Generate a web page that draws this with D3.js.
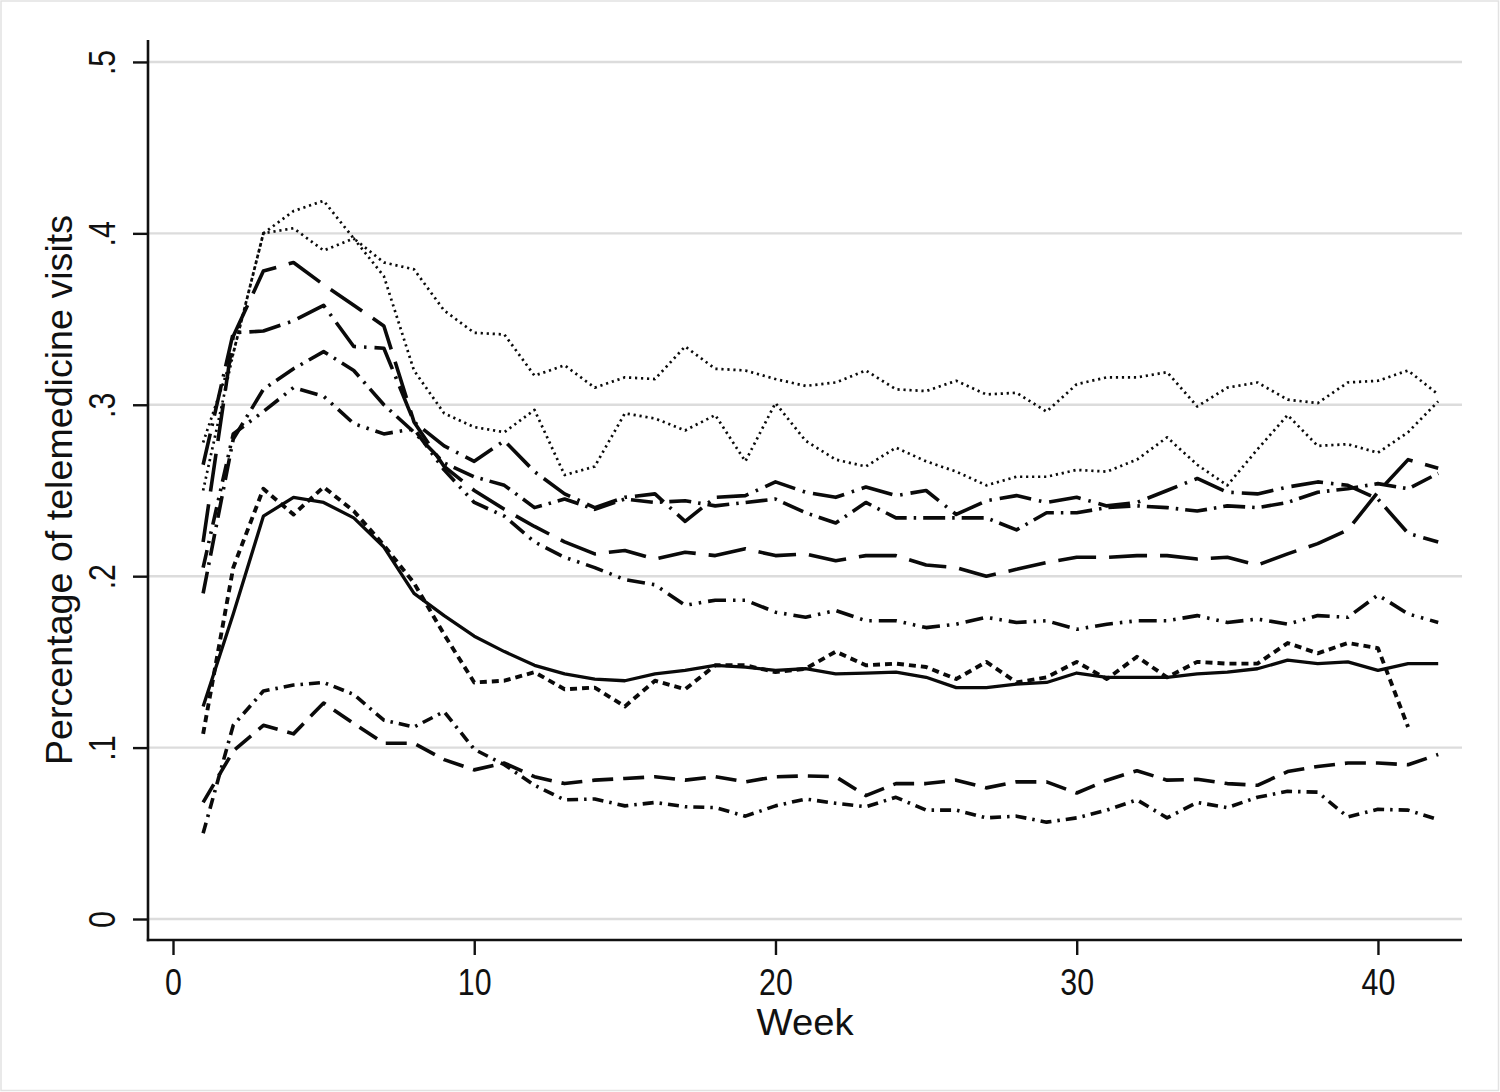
<!DOCTYPE html>
<html>
<head>
<meta charset="utf-8">
<script src="https://cdn.jsdelivr.net/npm/d3@7"></script>
<style>
  html, body { margin: 0; padding: 0; background: #fff; }
  svg { display: block; }
  text { font-family: "Liberation Sans", Arial, Helvetica, sans-serif; fill: #111; }
</style>
</head>
<body>
<svg id="chart" width="1500" height="1092"></svg>
<script>
// ---- data ----
const weeks = d3.range(1, 43);
const yTicks = [0, 0.1, 0.2, 0.3, 0.4, 0.5];
const xTicks = [0, 10, 20, 30, 40];
const xTitle = "Week";
const yTitle = "Percentage of telemedicine visits";

const dottedTop = [0.25, 0.33, 0.40, 0.413, 0.419, 0.397, 0.383, 0.379, 0.355, 0.342, 0.341, 0.317, 0.323, 0.31, 0.316, 0.315, 0.334, 0.321, 0.32, 0.315, 0.311, 0.313, 0.32, 0.309, 0.308, 0.314, 0.306, 0.307, 0.296, 0.312, 0.316, 0.316, 0.319, 0.299, 0.31, 0.313, 0.303, 0.301, 0.313, 0.314, 0.32, 0.306];
const dottedSecond = [0.278, 0.33, 0.40, 0.403, 0.39, 0.397, 0.375, 0.32, 0.295, 0.287, 0.284, 0.297, 0.259, 0.264, 0.295, 0.292, 0.285, 0.294, 0.267, 0.301, 0.279, 0.268, 0.264, 0.275, 0.267, 0.261, 0.253, 0.258, 0.258, 0.262, 0.261, 0.268, 0.281, 0.265, 0.253, 0.274, 0.294, 0.276, 0.277, 0.272, 0.284, 0.302];
const longDash = [0.22, 0.34, 0.378, 0.383, 0.37, 0.358, 0.346, 0.29, 0.264, 0.25, 0.239, 0.229, 0.22, 0.213, 0.215, 0.21, 0.214, 0.212, 0.216, 0.212, 0.213, 0.209, 0.212, 0.212, 0.2065, 0.205, 0.2, 0.204, 0.208, 0.211, 0.211, 0.212, 0.212, 0.21, 0.211, 0.2065, 0.213, 0.219, 0.227, 0.249, 0.268, 0.263];
const dashDotA = [0.265, 0.342, 0.343, 0.349, 0.358, 0.334, 0.333, 0.29, 0.276, 0.267, 0.279, 0.261, 0.248, 0.24, 0.246, 0.248, 0.232, 0.246, 0.247, 0.255, 0.249, 0.246, 0.252, 0.247, 0.25, 0.236, 0.244, 0.247, 0.243, 0.246, 0.241, 0.243, 0.25, 0.257, 0.249, 0.248, 0.252, 0.255, 0.253, 0.245, 0.225, 0.22];
const dashDotB = [0.19, 0.28, 0.309, 0.321, 0.331, 0.32, 0.30, 0.284, 0.266, 0.258, 0.253, 0.24, 0.245, 0.239, 0.245, 0.243, 0.244, 0.241, 0.243, 0.245, 0.237, 0.231, 0.243, 0.234, 0.234, 0.234, 0.234, 0.227, 0.237, 0.237, 0.24, 0.241, 0.24, 0.238, 0.241, 0.24, 0.243, 0.249, 0.251, 0.254, 0.251, 0.26];
const dashDotDot = [0.205, 0.283, 0.296, 0.31, 0.305, 0.289, 0.283, 0.286, 0.262, 0.243, 0.235, 0.22, 0.211, 0.205, 0.198, 0.195, 0.183, 0.186, 0.186, 0.179, 0.176, 0.18, 0.174, 0.174, 0.17, 0.172, 0.176, 0.173, 0.174, 0.169, 0.172, 0.174, 0.174, 0.177, 0.173, 0.175, 0.172, 0.177, 0.176, 0.189, 0.178, 0.173];
const solid = [0.124, 0.178, 0.235, 0.246, 0.243, 0.234, 0.217, 0.19, 0.177, 0.165, 0.156, 0.148, 0.143, 0.14, 0.139, 0.143, 0.145, 0.148, 0.147, 0.145, 0.146, 0.143, 0.1435, 0.144, 0.141, 0.135, 0.135, 0.137, 0.138, 0.1435, 0.141, 0.141, 0.141, 0.143, 0.144, 0.146, 0.151, 0.149, 0.15, 0.145, 0.149, 0.149];
const shortDash = [0.108, 0.205, 0.251, 0.236, 0.252, 0.238, 0.218, 0.196, 0.166, 0.138, 0.139, 0.144, 0.134, 0.135, 0.124, 0.139, 0.134, 0.148, 0.148, 0.144, 0.146, 0.156, 0.148, 0.149, 0.147, 0.14, 0.15, 0.138, 0.141, 0.15, 0.14, 0.153, 0.141, 0.15, 0.149, 0.149, 0.161, 0.155, 0.161, 0.158, 0.112];
const longDashLow = [0.068, 0.098, 0.113, 0.108, 0.126, 0.114, 0.1025, 0.1025, 0.093, 0.087, 0.091, 0.083, 0.079, 0.081, 0.082, 0.083, 0.081, 0.083, 0.08, 0.083, 0.0835, 0.083, 0.072, 0.079, 0.079, 0.081, 0.0765, 0.08, 0.08, 0.0735, 0.081, 0.0865, 0.081, 0.0815, 0.079, 0.078, 0.086, 0.089, 0.091, 0.091, 0.09, 0.096];
const dashDotLow = [0.05, 0.113, 0.133, 0.1365, 0.138, 0.131, 0.116, 0.112, 0.121, 0.099, 0.09, 0.078, 0.0695, 0.07, 0.066, 0.068, 0.0655, 0.065, 0.06, 0.066, 0.07, 0.0675, 0.0655, 0.071, 0.0635, 0.0635, 0.059, 0.06, 0.0565, 0.059, 0.0635, 0.0695, 0.059, 0.068, 0.065, 0.071, 0.0745, 0.074, 0.0595, 0.064, 0.0635, 0.058];

// ---- styles ----
const series = [
  { values: dottedTop,    dash: "2.2,3.8",              width: 2.7 },
  { values: dottedSecond, dash: "2.2,3.8",              width: 2.7 },
  { values: longDash,     dash: "38,13",                width: 3.6 },
  { values: dashDotA,     dash: "32,8,2.5,8",           width: 3.6 },
  { values: dashDotB,     dash: "22,7,2.5,7",           width: 3.6 },
  { values: dashDotDot,   dash: "18,7,2.5,7,2.5,7",     width: 3.6 },
  { values: solid,        dash: null,                   width: 3.3 },
  { values: shortDash,    dash: "7,5",                  width: 3.9 },
  { values: longDashLow,  dash: "21,10",                width: 3.6 },
  { values: dashDotLow,   dash: "11,6,2.5,6",           width: 3.6 }
];

const svg = d3.select("#chart");
const W = 1500, H = 1092;
const L = 148, R = 1462, T = 40, B = 940;

svg.append("rect").attr("x", 0).attr("y", 0).attr("width", W).attr("height", H).attr("fill", "#fff");
svg.append("rect").attr("x", 1).attr("y", 1).attr("width", W - 2.5).attr("height", H - 2.5)
  .attr("fill", "none").attr("stroke", "#e2e2e2").attr("stroke-width", 1.5);

const x = d3.scaleLinear().domain([-0.83, 42.79]).range([L, R]);
const y = d3.scaleLinear().domain([-0.01225, 0.5128]).range([B, T]);

// gridlines
svg.append("g").selectAll("line").data(yTicks).join("line")
  .attr("x1", L + 1).attr("x2", R)
  .attr("y1", d => y(d)).attr("y2", d => y(d))
  .attr("stroke", "#dcdcdc").attr("stroke-width", 2.4);

const fs = 37, sx = 0.82;

// y axis
const gy = svg.append("g").attr("transform", `translate(${L},0)`)
  .call(d3.axisLeft(y).tickValues(yTicks).tickSize(15).tickSizeOuter(0)
    .tickFormat(d => d === 0 ? "0" : d3.format(".1f")(d).replace(/^0/, "")));
gy.select(".domain").remove();
gy.selectAll(".tick line").attr("stroke", "#111").attr("stroke-width", 2.4);
gy.selectAll(".tick text")
  .attr("x", null).attr("dy", null)
  .attr("text-anchor", "middle")
  .attr("transform", `translate(-33,0) rotate(-90) scale(${sx},1)`)
  .style("font-size", fs + "px").attr("fill", "#111");

// x axis
const gx = svg.append("g").attr("transform", `translate(0,${B})`)
  .call(d3.axisBottom(x).tickValues(xTicks).tickSize(15).tickSizeOuter(0).tickFormat(d3.format("d")));
gx.select(".domain").remove();
gx.selectAll(".tick line").attr("stroke", "#111").attr("stroke-width", 2.4);
gx.selectAll(".tick text")
  .attr("y", null).attr("dy", null)
  .attr("text-anchor", "middle")
  .attr("transform", `translate(0,55) scale(${sx},1)`)
  .style("font-size", fs + "px").attr("fill", "#111");

// axis lines
svg.append("line").attr("x1", L).attr("x2", L).attr("y1", T).attr("y2", B + 1.2)
  .attr("stroke", "#111").attr("stroke-width", 2.6);
svg.append("line").attr("x1", L - 1.2).attr("x2", R).attr("y1", B).attr("y2", B)
  .attr("stroke", "#111").attr("stroke-width", 2.6);

// titles
svg.append("text").text(xTitle)
  .attr("text-anchor", "middle")
  .attr("x", (L + R) / 2).attr("y", 1035)
  .attr("textLength", 97).attr("lengthAdjust", "spacingAndGlyphs")
  .style("font-size", fs + "px");
svg.append("text").text(yTitle)
  .attr("text-anchor", "middle")
  .attr("transform", `translate(72,${(T + B) / 2}) rotate(-90)`)
  .attr("x", 0).attr("y", 0)
  .attr("textLength", 550).attr("lengthAdjust", "spacingAndGlyphs")
  .style("font-size", fs + "px");

// lines
const line = d3.line().x((d, i) => x(weeks[i])).y(d => y(d));
const gl = svg.append("g");
series.forEach(s => {
  gl.append("path").datum(s.values)
    .attr("d", line)
    .attr("fill", "none")
    .attr("stroke", "#0a0a0a")
    .attr("stroke-width", s.width)
    .attr("stroke-linejoin", "round")
    .attr("stroke-dasharray", s.dash);
});
</script>
</body>
</html>
